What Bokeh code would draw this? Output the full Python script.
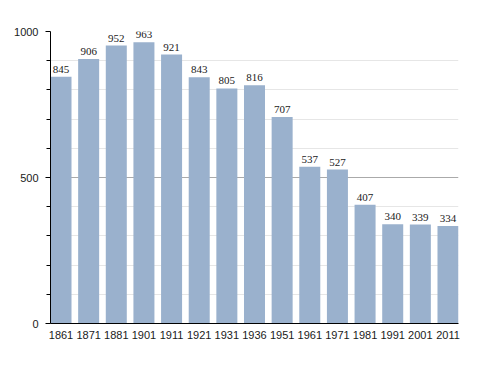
from bokeh.plotting import figure
from bokeh.models import ColumnDataSource, FixedTicker, Range1d, LabelSet
from bokeh.embed import file_html
from bokeh.resources import INLINE

years = ["1861", "1871", "1881", "1901", "1911", "1921", "1931", "1936",
         "1951", "1961", "1971", "1981", "1991", "2001", "2011"]
population = [845, 906, 952, 963, 921, 843, 805, 816, 707, 537, 527, 407, 340, 339, 334]
y_major = [0, 500, 1000]
y_minor = [100, 200, 300, 400, 600, 700, 800, 900]

idx = list(range(len(years)))
src = ColumnDataSource(dict(x=idx, y=population, lab=[str(v) for v in population]))

FONT = "Liberation Sans"

p = figure(width=480, height=365, output_backend="svg", toolbar_location=None,
           x_range=Range1d(-0.38, len(years) - 1 + 0.38), y_range=Range1d(0, 1000),
           min_border_left=50, min_border_right=22, min_border_top=31, min_border_bottom=42)
p.outline_line_color = None
p.background_fill_color = "white"
p.border_fill_color = "white"

p.vbar(x="x", top="y", width=0.76, source=src, fill_color="#9AB1CD", line_color=None)

labels = LabelSet(x="x", y="y", text="lab", source=src, text_align="center",
                  text_baseline="bottom", y_offset=4, text_font_size="11px",
                  text_font=FONT, text_color="#1a1a1a")
p.add_layout(labels)

# y axis
p.yaxis.ticker = FixedTicker(ticks=y_major, minor_ticks=y_minor)
p.yaxis.axis_line_color = "black"
p.yaxis.major_tick_out = 5
p.yaxis.major_tick_in = 0
p.yaxis.minor_tick_out = 4
p.yaxis.minor_tick_in = 0
p.yaxis.major_tick_line_color = "black"
p.yaxis.minor_tick_line_color = "black"
p.yaxis.major_label_standoff = 7
p.yaxis.major_label_text_font = FONT
p.yaxis.major_label_text_font_size = "11px"
p.yaxis.major_label_text_color = "#1a1a1a"

# x axis
p.xaxis.ticker = FixedTicker(ticks=idx)
p.xaxis.major_label_overrides = {i: y for i, y in zip(idx, years)}
p.xaxis.axis_line_color = "black"
p.xaxis.major_tick_line_color = None
p.xaxis.minor_tick_line_color = None
p.xaxis.major_label_standoff = 1
p.xaxis.major_label_text_font = FONT
p.xaxis.major_label_text_font_size = "11px"
p.xaxis.major_label_text_color = "#1a1a1a"

# grids
p.xgrid.grid_line_color = None
p.ygrid.grid_line_color = "#aaaaaa"
p.ygrid.minor_grid_line_color = "#e6e6e6"
p.ygrid.level = "underlay"

open("out.html", "w").write(file_html(p, INLINE))
